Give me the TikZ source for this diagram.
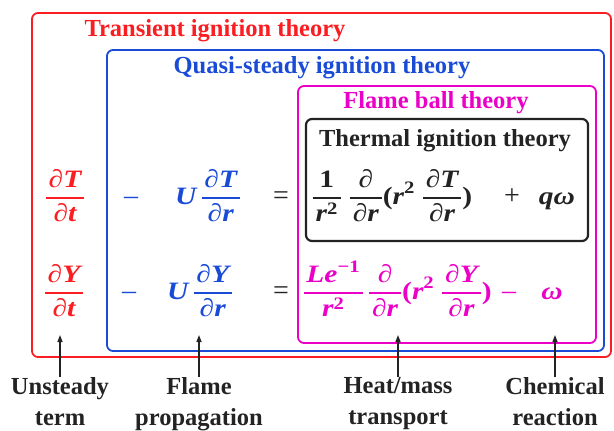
\documentclass[tikz,border=0pt]{standalone}
\usepackage{amsmath}
\usepackage{fontspec}
\setmainfont{Liberation Serif}
\newfontfamily\eqf{Liberation Serif}[FakeStretch=1.18]
\usetikzlibrary{arrows.meta}
\definecolor{cred}{RGB}{250,30,35}
\definecolor{cblue}{RGB}{25,75,215}
\definecolor{cmag}{RGB}{235,0,200}
\definecolor{cdark}{RGB}{35,35,35}
\newcommand\bi[1]{\text{\eqf\bfseries\itshape #1}}
\newcommand\bu[1]{\text{\eqf\bfseries #1}}
\newcommand\fr[2]{\genfrac{}{}{1.5pt}{0}{\mkern2mu#1\mkern2mu}{\mkern2mu#2\mkern2mu}}
\begin{document}
\begin{tikzpicture}[x=1pt,y=-1pt,
  box/.style={line width=1.8pt, rounded corners=6pt},
  ttl/.style={font=\fontsize{24.5}{28}\selectfont\bfseries, anchor=base, inner sep=0},
  eqn/.style={font=\fontsize{25}{28}\selectfont\bfseries, anchor=base, inner sep=0},
  op/.style={font=\fontsize{28}{30}\selectfont, anchor=base, inner sep=0},
  lbl/.style={font=\fontsize{24.5}{31}\selectfont\bfseries, align=center, anchor=north, inner sep=0, text=cdark},
  arr/.style={-{Triangle[length=7pt,width=5pt]}, line width=1.3pt, draw=cdark}]
\useasboundingbox (0,0) rectangle (614,431);
% boxes
\draw[box, cred]  (32,13) rectangle (611,357);
\draw[box, cblue] (107,50) rectangle (604,351);
\draw[box, cmag]  (298,86) rectangle (596,343);
\draw[box, cdark, line width=2.2pt] (306,119) rectangle (588,241);
% titles
\node[ttl, text=cred]  (tt) at (215,37)  {Transient ignition theory};
\node[ttl, text=cblue] (tq) at (322,74)  {Quasi-steady ignition theory};
\node[ttl, text=cmag]  (tf) at (436,108) {Flame ball theory};
\node[ttl, text=cdark] (th) at (445,146) {Thermal ignition theory};
% row 1
\node[eqn, text=cred]  (dTdt) at (65,204)  {$\displaystyle\fr{\bi{∂T}}{\bi{∂t}}$};
\node[op,  text=cblue] (m1)   at (131,204) {–};
\node[eqn, text=cblue] (UdT)  at (208,204) {$\displaystyle\bi{U}\,\fr{\bi{∂T}}{\bi{∂r}}$};
\node[op,  text=cdark] (e1)   at (281,204) {=};
\node[eqn, text=cdark] (dif1) at (392,204) {$\displaystyle\fr{\bu{1}}{\bi{r}^{\bu{2}}}\;\fr{\bi{∂}}{\bi{∂r}}\bu{(}\bi{r}^{\bu{2}}\;\fr{\bi{∂T}}{\bi{∂r}}\bu{)}$};
\node[op,  text=cdark] (p1)   at (512,204) {+};
\node[eqn, text=cdark] (qw)   at (557,204) {$\bi{qω}$};
% row 2
\node[eqn, text=cred]  (dYdt) at (64,299)  {$\displaystyle\fr{\bi{∂Y}}{\bi{∂t}}$};
\node[op,  text=cblue] (m2)   at (129,299) {–};
\node[eqn, text=cblue] (UdY)  at (200,299) {$\displaystyle\bi{U}\,\fr{\bi{∂Y}}{\bi{∂r}}$};
\node[op,  text=cdark] (e2)   at (281,299) {=};
\node[eqn, text=cmag]  (dif2) at (397,299) {$\displaystyle\fr{\bi{Le}^{\bu{−1}}}{\bi{r}^{\bu{2}}}\,\fr{\bi{∂}}{\bi{∂r}}\bu{(}\bi{r}^{\bu{2}}\;\fr{\bi{∂Y}}{\bi{∂r}}\bu{)}$};
\node[op,  text=cmag]  (m3)   at (509,299) {–};
\node[eqn, text=cmag]  (w)    at (552,299) {$\bi{ω}$};
% labels and arrows
\node[lbl] (l1) at (60,377)  {Unsteady\\term};
\node[lbl] (l2) at (199,377) {Flame\\propagation};
\node[lbl] (l3) at (398,377) {Heat/mass\\transport};
\node[lbl] (l4) at (555,377) {Chemical\\reaction};
\coordinate (a1) at (60,335);
\coordinate (a2) at (199,335);
\coordinate (a3) at (398,335);
\coordinate (a4) at (555,335);
\draw[arr] (l1.north) -- (a1);
\draw[arr] (l2.north) -- (a2);
\draw[arr] (l3.north) -- (a3);
\draw[arr] (l4.north) -- (a4);
\end{tikzpicture}
\end{document}
